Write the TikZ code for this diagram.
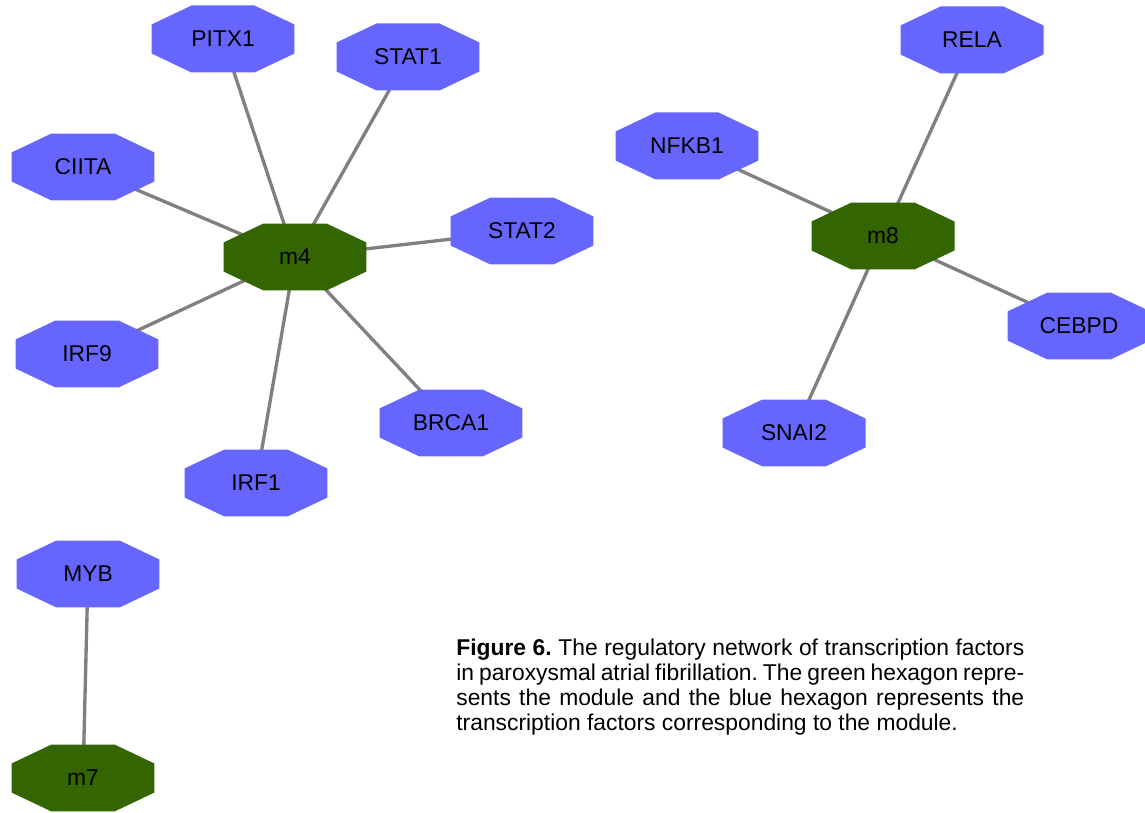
\documentclass[tikz,border=0pt]{standalone}
\usepackage{fontspec}
\setmainfont{Liberation Sans}
\usetikzlibrary{backgrounds}

\definecolor{tfblue}{RGB}{102,102,255}
\definecolor{modgreen}{RGB}{51,102,0}
\definecolor{edgegray}{RGB}{128,128,128}

\tikzset{
  octa/.style={rectangle, minimum width=2.86cm, minimum height=1.34cm,
    inner sep=0pt, font=\fontsize{13}{15}\selectfont,
    path picture={\fill [#1]
      ([xshift=0.8cm]path picture bounding box.north west) --
      ([xshift=-0.8cm]path picture bounding box.north east) --
      ([yshift=-0.38cm]path picture bounding box.north east) --
      ([yshift=0.38cm]path picture bounding box.south east) --
      ([xshift=-0.8cm]path picture bounding box.south east) --
      ([xshift=0.8cm]path picture bounding box.south west) --
      ([yshift=0.38cm]path picture bounding box.south west) --
      ([yshift=-0.38cm]path picture bounding box.north west) -- cycle;}},
  tf/.style={octa=tfblue},
  module/.style={octa=modgreen},
  link/.style={draw=edgegray, line width=1.9pt}
}

\begin{document}
\frenchspacing
\begin{tikzpicture}[x=0.02cm, y=-0.02cm]
    \useasboundingbox (0, 0) rectangle (1145, 813);

    % module m4
    \node [module] (m4) at (295, 257) {m4};
    \node [tf] (pitx1) at (223, 39) {PITX1};
    \node [tf] (stat1) at (408, 57) {STAT1};
    \node [tf] (ciita) at (83, 167) {CIITA};
    \node [tf] (stat2) at (522, 231) {STAT2};
    \node [tf] (irf9) at (87, 354) {IRF9};
    \node [tf] (brca1) at (451, 423) {BRCA1};
    \node [tf] (irf1) at (256, 483) {IRF1};

    % module m8
    \node [module] (m8) at (883, 236) {m8};
    \node [tf] (rela) at (972, 40) {RELA};
    \node [tf] (nfkb1) at (687, 146) {NFKB1};
    \node [tf] (cebpd) at (1079, 326) {CEBPD};
    \node [tf] (snai2) at (794, 433) {SNAI2};

    % module m7
    \node [module] (m7) at (83, 778) {m7};
    \node [tf] (myb) at (88, 574) {MYB};

    \begin{scope}[on background layer]
      \foreach \tfname in {pitx1, stat1, ciita, stat2, irf9, brca1, irf1}
        \draw [link] (m4.center) -- (\tfname.center);
      \foreach \tfname in {rela, nfkb1, cebpd, snai2}
        \draw [link] (m8.center) -- (\tfname.center);
      \draw [link] (m7.center) -- (myb.center);
    \end{scope}

    \node [anchor = north west, align = left, inner sep = 0,
      font = \fontsize{13}{14.2}\selectfont] (caption) at (456, 639)
      {\makebox[11.36cm][s]{\textbf{Figure 6.} The regulatory network of transcription factors}\\
       \makebox[11.36cm][s]{in paroxysmal atrial fibrillation. The green hexagon repre-}\\
       \makebox[11.36cm][s]{sents the module and the blue hexagon represents the}\\
       transcription factors corresponding to the module.};
\end{tikzpicture}
\end{document}
